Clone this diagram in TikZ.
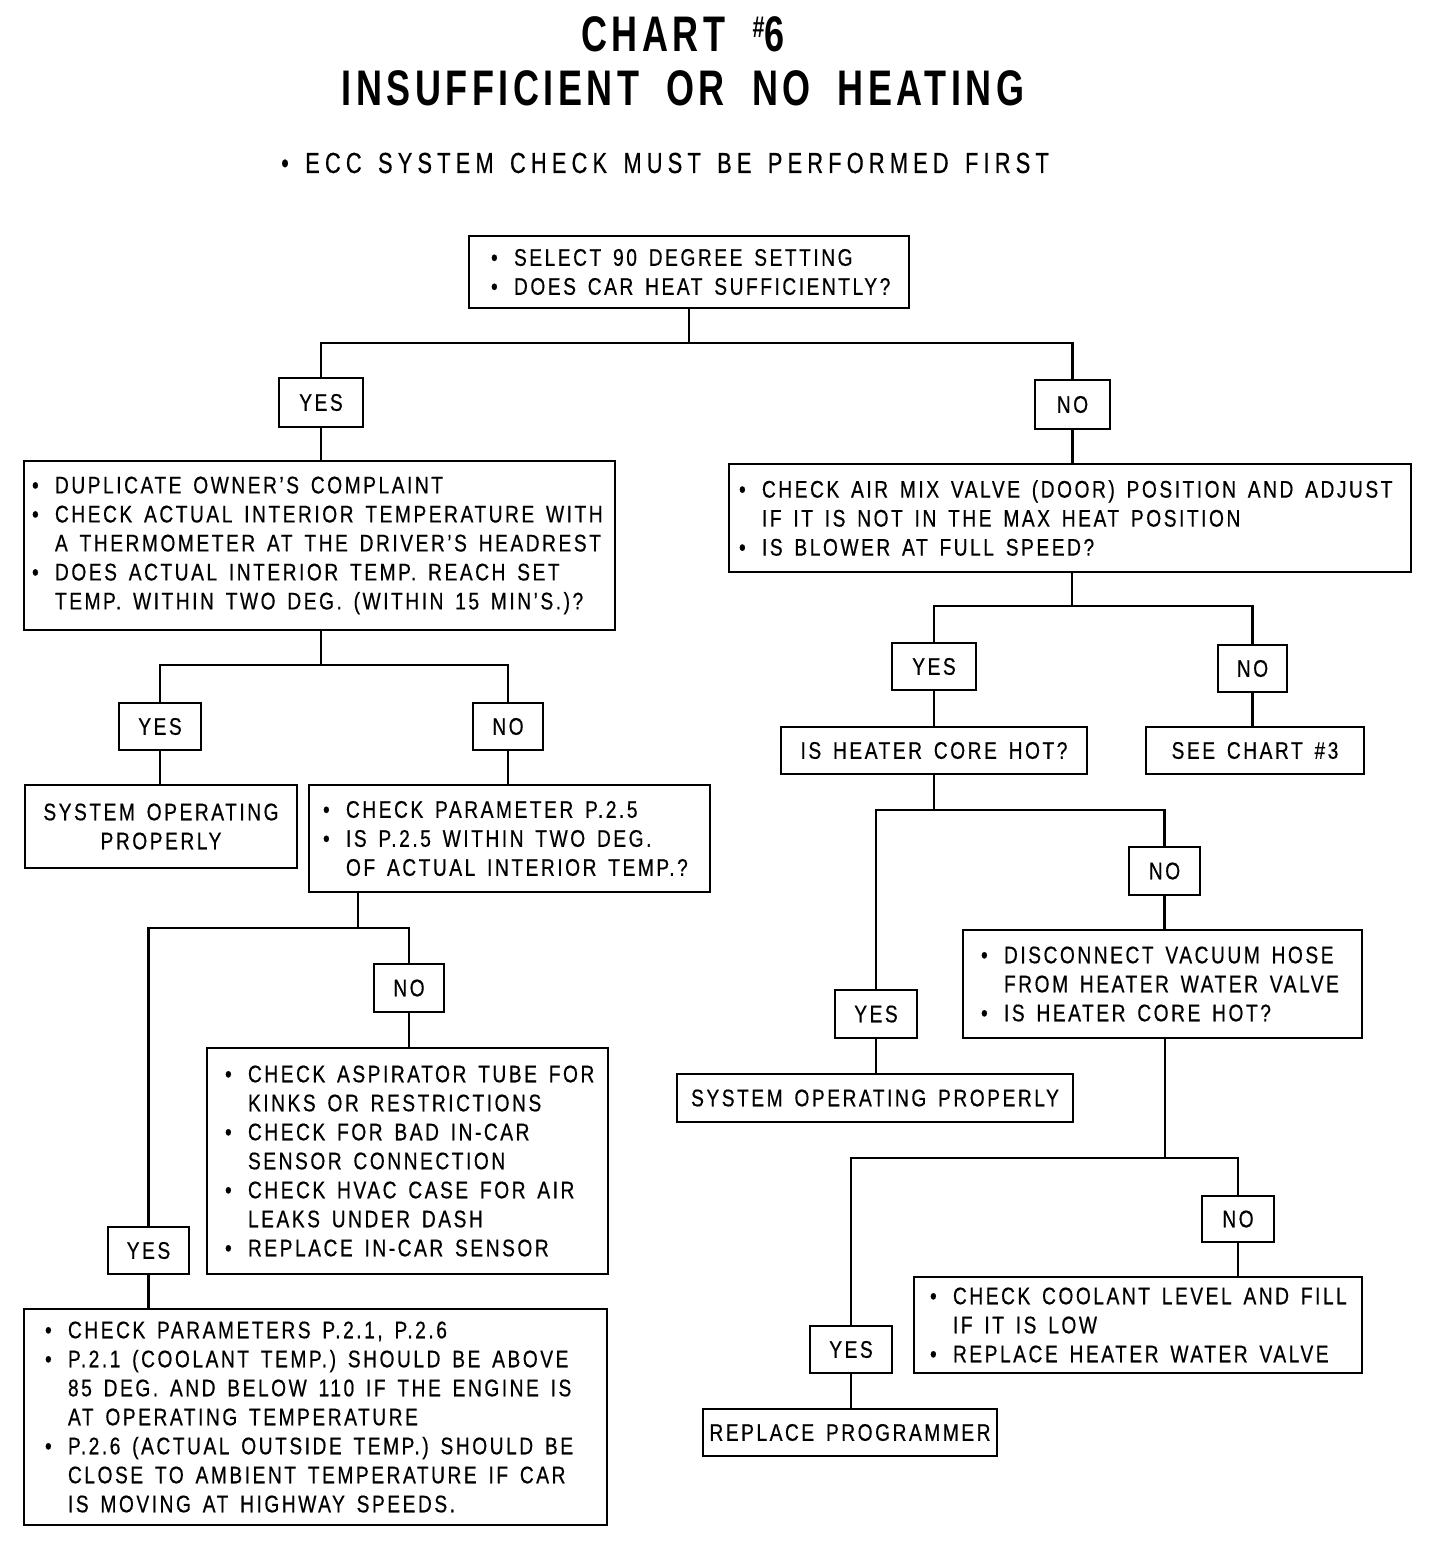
\documentclass[tikz,border=0pt]{standalone}
\usepackage{fontspec}
\setmainfont{Liberation Sans}[FakeStretch=0.8,LetterSpace=10.5,FakeBold=0.5]
\newfontfamily\titlefont{Liberation Sans}[FakeStretch=0.72,LetterSpace=9,WordSpace=1.88]
\newfontfamily\eccfont{Liberation Sans}[FakeStretch=0.75,LetterSpace=18,WordSpace=1.46,FakeBold=0.5]
\newcommand\bu{\makebox[11.5pt][l]{\textbullet}}
\newcommand\ind{\hspace*{11.5pt}}
\newcommand\LL[1]{\mbox{#1}}
\begin{document}
\begin{tikzpicture}[x=0.5pt,y=-0.5pt,
  box/.style={draw, line width=1.2pt, inner sep=0pt, font=\fontsize{12}{14.5}\selectfont,
    execute at begin node={\spaceskip=5.9pt plus 1pt minus 1pt\relax\xspaceskip=5.9pt plus 1pt minus 1pt\relax}},
  lbox/.style={box, align=left},
  cbox/.style={box, align=center},
  conn/.style={line width=1.1pt}]
\fill[white] (0,0) rectangle (1440,1548);
\useasboundingbox (0,0) rectangle (1440,1548);

% titles
\node[font=\titlefont\bfseries\fontsize{25}{30}\selectfont] (t1) at (683,34) {CHART {\fontsize{15}{15}\selectfont\raisebox{7pt}{\#}}6};
\node[font=\titlefont\bfseries\fontsize{25}{30}\selectfont] (t2) at (683,88) {INSUFFICIENT OR NO HEATING};
\node[font=\eccfont\fontsize{14.5}{17}\selectfont] (ecc) at (665,163) {\textbullet\ ECC SYSTEM CHECK MUST BE PERFORMED FIRST};

% boxes
\node[lbox, minimum width=220pt, minimum height=36pt, text width=198pt] (top) at (689,272)
 {\LL{\bu SELECT 90 DEGREE SETTING}\\\LL{\bu DOES CAR HEAT SUFFICIENTLY?}};

\node[lbox, minimum width=295.5pt, minimum height=84.5pt, text width=287.5pt] (left1) at (319.5,545.5)
 {\LL{\bu DUPLICATE OWNER'S COMPLAINT}\\
  \LL{\bu CHECK ACTUAL INTERIOR TEMPERATURE WITH}\\
  \LL{\ind A THERMOMETER AT THE DRIVER'S HEADREST}\\
  \LL{\bu DOES ACTUAL INTERIOR TEMP. REACH SET}\\
  \LL{\ind TEMP. WITHIN TWO DEG. (WITHIN 15 MIN'S.)?}};

\node[lbox, minimum width=341pt, minimum height=54pt, text width=331pt] (right1) at (1070,518)
 {\LL{\bu CHECK AIR MIX VALVE (DOOR) POSITION AND ADJUST}\\
  \LL{\ind IF IT IS NOT IN THE MAX HEAT POSITION}\\
  \LL{\bu IS BLOWER AT FULL SPEED?}};

\node[cbox, minimum width=136pt, minimum height=41.5pt] (sop1) at (161,826.5)
 {SYSTEM OPERATING\\PROPERLY};

\node[lbox, minimum width=200.5pt, minimum height=53.5pt, text width=186.5pt] (cp) at (509.5,838.5)
 {\LL{\bu CHECK PARAMETER P.2.5}\\
  \LL{\bu IS P.2.5 WITHIN TWO DEG.}\\
  \LL{\ind OF ACTUAL INTERIOR TEMP.?}};

\node[lbox, minimum width=200.5pt, minimum height=113pt, text width=182.5pt] (asp) at (407.5,1161)
 {\LL{\bu CHECK ASPIRATOR TUBE FOR}\\
  \LL{\ind KINKS OR RESTRICTIONS}\\
  \LL{\bu CHECK FOR BAD IN-CAR}\\
  \LL{\ind SENSOR CONNECTION}\\
  \LL{\bu CHECK HVAC CASE FOR AIR}\\
  \LL{\ind LEAKS UNDER DASH}\\
  \LL{\bu REPLACE IN-CAR SENSOR}};

\node[lbox, minimum width=291.5pt, minimum height=108pt, text width=270.5pt] (bl) at (315.5,1417)
 {\LL{\bu CHECK PARAMETERS P.2.1, P.2.6}\\
  \LL{\bu P.2.1 (COOLANT TEMP.) SHOULD BE ABOVE}\\
  \LL{\ind 85 DEG. AND BELOW 110 IF THE ENGINE IS}\\
  \LL{\ind AT OPERATING TEMPERATURE}\\
  \LL{\bu P.2.6 (ACTUAL OUTSIDE TEMP.) SHOULD BE}\\
  \LL{\ind CLOSE TO AMBIENT TEMPERATURE IF CAR}\\
  \LL{\ind IS MOVING AT HIGHWAY SPEEDS.}};

\node[cbox, minimum width=153pt, minimum height=23.5pt] (hch) at (934,750.5) {IS HEATER CORE HOT?};
\node[cbox, minimum width=109pt, minimum height=23.5pt] (see) at (1255,750.5) {SEE CHART \#3};

\node[lbox, minimum width=199.5pt, minimum height=54pt, text width=181.5pt] (disc) at (1162.5,984)
 {\LL{\bu DISCONNECT VACUUM HOSE}\\
  \LL{\ind FROM HEATER WATER VALVE}\\
  \LL{\bu IS HEATER CORE HOT?}};

\node[cbox, minimum width=198pt, minimum height=24pt] (sop2) at (875,1098) {SYSTEM OPERATING PROPERLY};

\node[lbox, minimum width=224pt, minimum height=48pt, text width=208pt] (cool) at (1138,1325)
 {\LL{\bu CHECK COOLANT LEVEL AND FILL}\\
  \LL{\ind IF IT IS LOW}\\
  \LL{\bu REPLACE HEATER WATER VALVE}};

\node[cbox, minimum width=147pt, minimum height=23.5pt] (rp) at (850,1432.5) {REPLACE PROGRAMMER};

% yes / no labels
\node[cbox, minimum width=42pt, minimum height=24.5pt] (yes1) at (321,402.5) {YES};
\node[cbox, minimum width=37.5pt, minimum height=24.5pt] (no1) at (1072.5,404.5) {NO};
\node[cbox, minimum width=41pt, minimum height=23.5pt] (yes2) at (160,726.5) {YES};
\node[cbox, minimum width=35pt, minimum height=23.5pt] (no2) at (508,726.5) {NO};
\node[cbox, minimum width=35pt, minimum height=24pt] (no3) at (409,988) {NO};
\node[cbox, minimum width=40.5pt, minimum height=23.5pt] (yes3) at (148.5,1250.5) {YES};
\node[cbox, minimum width=42pt, minimum height=23.5pt] (yes4) at (934,666.5) {YES};
\node[cbox, minimum width=34.5pt, minimum height=23.5pt] (no4) at (1252.5,668.5) {NO};
\node[cbox, minimum width=35.5pt, minimum height=24pt] (no5) at (1164.5,871) {NO};
\node[cbox, minimum width=41pt, minimum height=24pt] (yes5) at (876,1014) {YES};
\node[cbox, minimum width=36pt, minimum height=23pt] (no6) at (1238,1219) {NO};
\node[cbox, minimum width=41pt, minimum height=23.5pt] (yes6) at (851,1349.5) {YES};

% junctions
\coordinate (j1) at (689,343);
\coordinate (j2) at (321,665);
\coordinate (j3) at (358,928);
\coordinate (j4) at (1072,606);
\coordinate (j5) at (934,810);
\coordinate (j6) at (1165,1158);

% connectors
\draw[conn] (top.south -| j1) -- (j1);
\draw[conn] (yes1.north) |- (j1) -| (no1.north);
\draw[conn] (yes1.south) -- (yes1.south |- left1.north);
\draw[conn] (no1.south) -- (no1.south |- right1.north);

\draw[conn] (left1.south -| j2) -- (j2);
\draw[conn] (yes2.north) |- (j2) -| (no2.north);
\draw[conn] (yes2.south) -- (yes2.south |- sop1.north);
\draw[conn] (no2.south) -- (no2.south |- cp.north);

\draw[conn] (cp.south -| j3) -- (j3);
\draw[conn] (yes3.north) |- (j3) -| (no3.north);
\draw[conn] (no3.south) -- (no3.south |- asp.north);
\draw[conn] (yes3.south) -- (yes3.south |- bl.north);

\draw[conn] (right1.south -| j4) -- (j4);
\draw[conn] (yes4.north) |- (j4) -| (no4.north);
\draw[conn] (yes4.south) -- (yes4.south |- hch.north);
\draw[conn] (no4.south) -- (no4.south |- see.north);

\draw[conn] (hch.south -| j5) -- (j5);
\draw[conn] (yes5.north) |- (j5) -| (no5.north);
\draw[conn] (no5.south) -- (no5.south |- disc.north);
\draw[conn] (yes5.south) -- (yes5.south |- sop2.north);

\draw[conn] (disc.south -| j6) -- (j6);
\draw[conn] (yes6.north) |- (j6) -| (no6.north);
\draw[conn] (no6.south) -- (no6.south |- cool.north);
\draw[conn] (yes6.south) -- (yes6.south |- rp.north);
\end{tikzpicture}
\end{document}
